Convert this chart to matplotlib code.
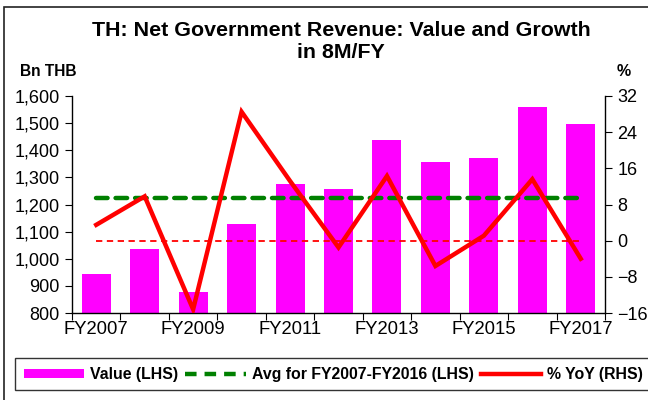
import matplotlib
matplotlib.use("Agg")
import matplotlib.pyplot as plt
from matplotlib.patches import Rectangle
from matplotlib.lines import Line2D
from matplotlib.patches import Patch

plt.rcParams['font.family'] = ['Liberation Sans', 'DejaVu Sans']

categories = ["FY2007", "FY2008", "FY2009", "FY2010", "FY2011", "FY2012",
              "FY2013", "FY2014", "FY2015", "FY2016", "FY2017"]
values = [943, 1035, 878, 1128, 1277, 1258, 1438, 1357, 1372, 1559, 1497]
avg_value = 1224.5
yoy = [3.5, 9.8, -15.2, 28.5, 13.2, -1.5, 14.3, -5.6, 1.1, 13.6, -4.0]
zero_line = 0
left_ticks = [800, 900, 1000, 1100, 1200, 1300, 1400, 1500, 1600]
right_ticks = [-16, -8, 0, 8, 16, 24, 32]

W, H = 648, 400
fig = plt.figure(figsize=(W / 100, H / 100), dpi=100)

# outer frame
fig.patches.append(Rectangle((4 / W, -0.1), 1.1, 1 - 7 / H + 0.1, transform=fig.transFigure,
                             fill=False, edgecolor='#222222', lw=1.2))

ax = fig.add_axes([72 / W, 1 - 313 / H, (605 - 72) / W, (313 - 96) / H])
ax2 = ax.twinx()
ax.set_zorder(ax2.get_zorder() - 1)
ax.patch.set_visible(False)

x = list(range(len(categories)))
ax.bar(x, values, width=0.6, color='#FF00FF', bottom=0)
ax.plot([x[0], x[-1]], [avg_value, avg_value], color='#008000', lw=3.2,
        linestyle=(0, (2.6, 1.8)), solid_capstyle='round', dash_capstyle='round')
ax.set_ylim(800, 1600)
ax.set_xlim(-0.5, len(categories) - 0.5)
ax.set_yticks(left_ticks)
ax.set_yticklabels([f"{v:,}" for v in left_ticks])

ax2.plot(x, yoy, color='#FF0000', lw=3.2, solid_joinstyle='miter')
ax2.plot([x[0], x[-1]], [zero_line, zero_line], color='#FF0000', lw=1.3,
         linestyle=(0, (3.5, 2.5)))
ax2.set_ylim(-16, 32)
ax2.set_yticks(right_ticks)

for a in (ax, ax2):
    a.spines['top'].set_visible(False)
ax2.spines['left'].set_visible(False)
ax.spines['right'].set_visible(False)
for s in ('left', 'bottom'):
    ax.spines[s].set_linewidth(1.0)
ax2.spines['right'].set_linewidth(1.0)
ax2.spines['bottom'].set_visible(False)

ax.tick_params(axis='y', direction='out', length=5, labelsize=13, pad=4)
ax2.tick_params(axis='y', direction='out', length=5, labelsize=13, pad=4)

# x ticks at boundaries, labels at centers (every other)
ax.set_xticks([i - 0.5 for i in range(len(categories) + 1)])
ax.set_xticklabels([])
ax.tick_params(axis='x', which='major', direction='out', length=5)
ax.set_xticks(x[::2], minor=True)
ax.set_xticklabels(categories[::2], minor=True)
ax.tick_params(axis='x', which='minor', length=0, labelsize=13.3, pad=6)

fig.text(341 / W, 1 - 31 / H, "TH: Net Government Revenue: Value and Growth",
         ha='center', va='center', fontsize=15.4, fontweight='bold')
fig.text(341 / W, 1 - 53 / H, "in 8M/FY",
         ha='center', va='center', fontsize=15.4, fontweight='bold')
fig.text(20 / W, 1 - 72 / H, "Bn THB", ha='left', va='center', fontsize=11.2, fontweight='bold')
fig.text(624 / W, 1 - 72 / H, "%", ha='center', va='center', fontsize=11.5, fontweight='bold')

handles = [
    Patch(facecolor='#FF00FF', edgecolor='none'),
    Line2D([0], [0], color='#008000', lw=3.2, linestyle=(0, (2.6, 1.8))),
    Line2D([0], [0], color='#FF0000', lw=3.2),
]
labels = ["Value (LHS)", "Avg for FY2007-FY2016 (LHS)", "% YoY (RHS)"]
leg = fig.legend(handles, labels, loc='upper left', bbox_to_anchor=(15 / W, 1 - 358 / H),
                 ncol=3, frameon=True, fancybox=False, edgecolor='black',
                 prop={'weight': 'bold', 'size': 11.4}, handlelength=3.8, handleheight=0.5,
                 columnspacing=0.45, handletextpad=0.4, borderaxespad=0, borderpad=0.55)
leg.get_frame().set_linewidth(1.0)

fig.savefig("out.png", dpi=100)
